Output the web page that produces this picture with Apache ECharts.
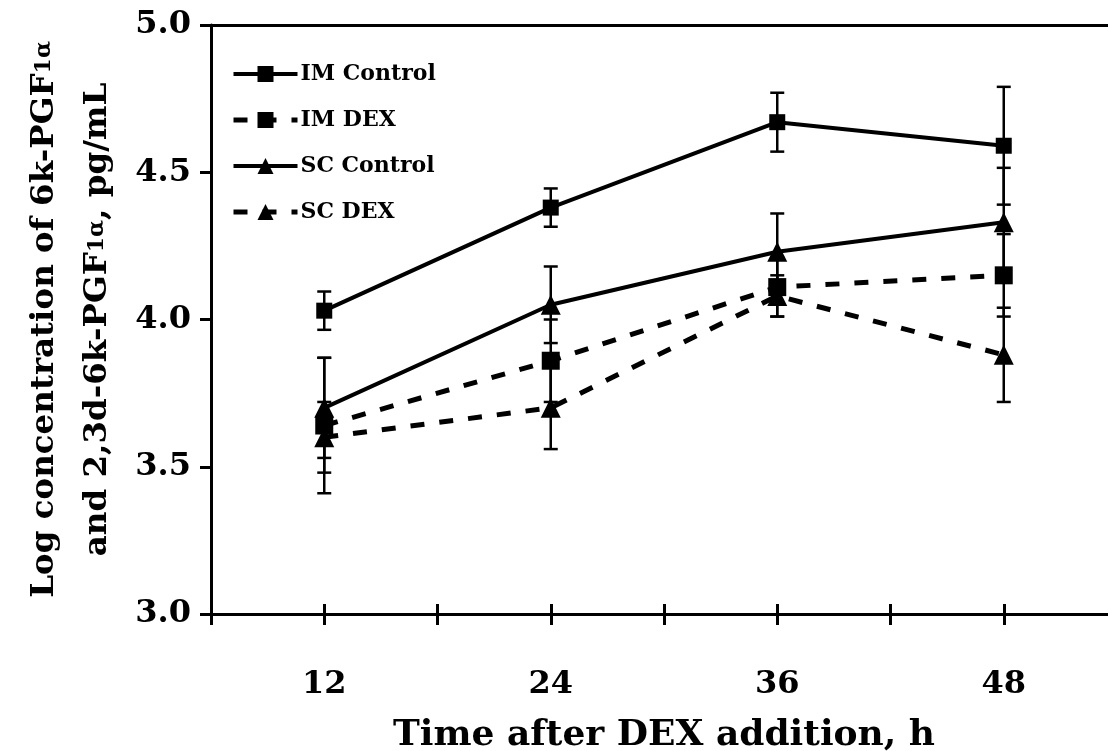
<!DOCTYPE html>
<html>
<head>
<meta charset="utf-8">
<script src="https://cdn.jsdelivr.net/npm/echarts@6/dist/echarts.min.js"></script>
<style>
  html, body { margin: 0; padding: 0; background: #fff; }
  #chart { width: 1108px; height: 751px; }
</style>
</head>
<body>
<div id="chart"></div>
<script>
// Sampling times (h after DEX addition)
const hours = [12, 24, 36, 48];

// Log concentrations (means) and error half-widths per group
const imControl    = [4.03, 4.38, 4.67, 4.59];
const imControlErr = [0.065, 0.065, 0.10, 0.20];
const imDex        = [3.64, 3.86, 4.11, 4.15];
const imDexErr     = [0.23, 0.14, 0.10, 0.14];
const scControl    = [3.70, 4.05, 4.23, 4.33];
const scControlErr = [0.17, 0.13, 0.13, 0.185];
const scDex        = [3.60, 3.70, 4.08, 3.88];
const scDexErr     = [0.12, 0.14, 0.07, 0.16];

// Axis ranges
const xMin = 6, xMax = 54, xStep = 6;
const yMin = 3.0, yMax = 5.0, yStep = 0.5;

const FONT = '"DejaVu Serif", "Liberation Serif", serif';

const pairs = (vals) => hours.map((h, i) => [h, vals[i]]);
const errRows = (vals, errs) => hours.map((h, i) => [h, vals[i] - errs[i], vals[i] + errs[i]]);

function errorBarSeries(vals, errs) {
  return {
    type: 'custom',
    xAxisIndex: 0, yAxisIndex: 0,
    silent: true,
    z: 1,
    data: errRows(vals, errs),
    renderItem: function (params, api) {
      const lo = api.coord([api.value(0), api.value(1)]);
      const hi = api.coord([api.value(0), api.value(2)]);
      const half = 7;
      const st = { stroke: '#000', lineWidth: 2.5 };
      return {
        type: 'group',
        children: [
          { type: 'line', shape: { x1: hi[0], y1: hi[1], x2: lo[0], y2: lo[1] }, style: st },
          { type: 'line', shape: { x1: hi[0] - half, y1: hi[1], x2: hi[0] + half, y2: hi[1] }, style: st },
          { type: 'line', shape: { x1: lo[0] - half, y1: lo[1], x2: lo[0] + half, y2: lo[1] }, style: st }
        ]
      };
    }
  };
}

const SOLID = { color: '#000', width: 4, type: 'solid' };
const DASHED = { color: '#000', width: 5, type: [14, 15] };

function lineSeries(name, vals, symbol, size, dashed) {
  return {
    name: name,
    type: 'line',
    xAxisIndex: 0, yAxisIndex: 0,
    data: pairs(vals),
    symbol: symbol,
    symbolSize: size,
    showAllSymbol: true,
    z: 3,
    itemStyle: { color: '#000', borderWidth: 0 },
    lineStyle: dashed ? DASHED : SOLID,
    emphasis: { disabled: true },
    animation: false
  };
}

// The plot box runs a little past the right edge of the page
const gridBox = { left: 211, right: -9, top: 25, bottom: 137, containLabel: false, outerBoundsMode: 'none' };

const chart = echarts.init(document.getElementById('chart'), null, { renderer: 'canvas' });
chart.setOption({
  animation: false,
  backgroundColor: '#fff',
  grid: [Object.assign({}, gridBox), Object.assign({}, gridBox)],
  legend: {
    orient: 'vertical',
    left: 226,
    top: 58,
    itemWidth: 64,
    itemHeight: 20,
    itemGap: 24,
    data: [
      { name: 'IM Control', lineStyle: SOLID },
      { name: 'IM DEX', lineStyle: DASHED },
      { name: 'SC Control', lineStyle: SOLID },
      { name: 'SC DEX', lineStyle: DASHED }
    ],
    textStyle: { fontFamily: FONT, fontWeight: 'bold', fontSize: 22, color: '#000', padding: [0, 0, 0, -2] },
    selectedMode: false
  },
  xAxis: [
    {
      gridIndex: 0, type: 'value', position: 'bottom',
      min: xMin, max: xMax, interval: xStep,
      name: 'Time after DEX addition, h',
      nameLocation: 'middle', nameGap: 104, nameMoveOverlap: false,
      nameTextStyle: { fontFamily: FONT, fontWeight: 'bold', fontSize: 36, color: '#000' },
      axisLine: { show: true, onZero: false, lineStyle: { color: '#000', width: 3 } },
      axisTick: { show: true, inside: false, length: 11, lineStyle: { color: '#000', width: 3 } },
      axisLabel: {
        margin: 55,
        fontFamily: FONT, fontWeight: 'bold', fontSize: 32, color: '#000',
        formatter: (v) => (v % 12 === 0 ? String(v) : '')
      },
      splitLine: { show: false }
    },
    {
      // upper part of the crossing tick marks
      gridIndex: 1, type: 'value', position: 'bottom',
      min: xMin, max: xMax, interval: xStep,
      axisLine: { show: false },
      axisTick: { show: true, inside: true, length: 10, lineStyle: { color: '#000', width: 3 } },
      axisLabel: { show: false },
      splitLine: { show: false }
    },
    {
      // top border line
      gridIndex: 0, type: 'value', position: 'top',
      min: xMin, max: xMax, interval: xStep,
      axisLine: { show: true, onZero: false, lineStyle: { color: '#000', width: 3 } },
      axisTick: { show: false },
      axisLabel: { show: false },
      splitLine: { show: false }
    }
  ],
  yAxis: [
    {
      gridIndex: 0, type: 'value',
      min: yMin, max: yMax, interval: yStep,
      name: 'Log concentration of 6k-PGF{s|1α}\nand 2,3d-6k-PGF{s|1α}, pg/mL',
      nameLocation: 'middle', nameRotate: 90, nameGap: 87, nameMoveOverlap: false,
      nameTextStyle: {
        fontFamily: FONT, fontWeight: 'bold', fontSize: 32.5, color: '#000', lineHeight: 53,
        rich: { s: { fontFamily: FONT, fontWeight: 'bold', fontSize: 22, color: '#000', lineHeight: 53 } }
      },
      axisLine: { show: true, onZero: false, lineStyle: { color: '#000', width: 3 } },
      axisTick: { show: true, inside: false, length: 11, lineStyle: { color: '#000', width: 3 } },
      axisLabel: {
        margin: 20,
        fontFamily: FONT, fontWeight: 'bold', fontSize: 32, color: '#000',
        formatter: (v) => v.toFixed(1)
      },
      splitLine: { show: false }
    },
    {
      gridIndex: 1, type: 'value', show: false,
      min: yMin, max: yMax, interval: yStep
    }
  ],
  series: [
    errorBarSeries(imControl, imControlErr),
    errorBarSeries(imDex, imDexErr),
    errorBarSeries(scControl, scControlErr),
    errorBarSeries(scDex, scDexErr),
    lineSeries('IM Control', imControl, 'rect', 16, false),
    lineSeries('IM DEX', imDex, 'rect', 18, true),
    lineSeries('SC Control', scControl, 'triangle', 20, false),
    lineSeries('SC DEX', scDex, 'triangle', 20, true)
  ]
});
</script>
</body>
</html>
